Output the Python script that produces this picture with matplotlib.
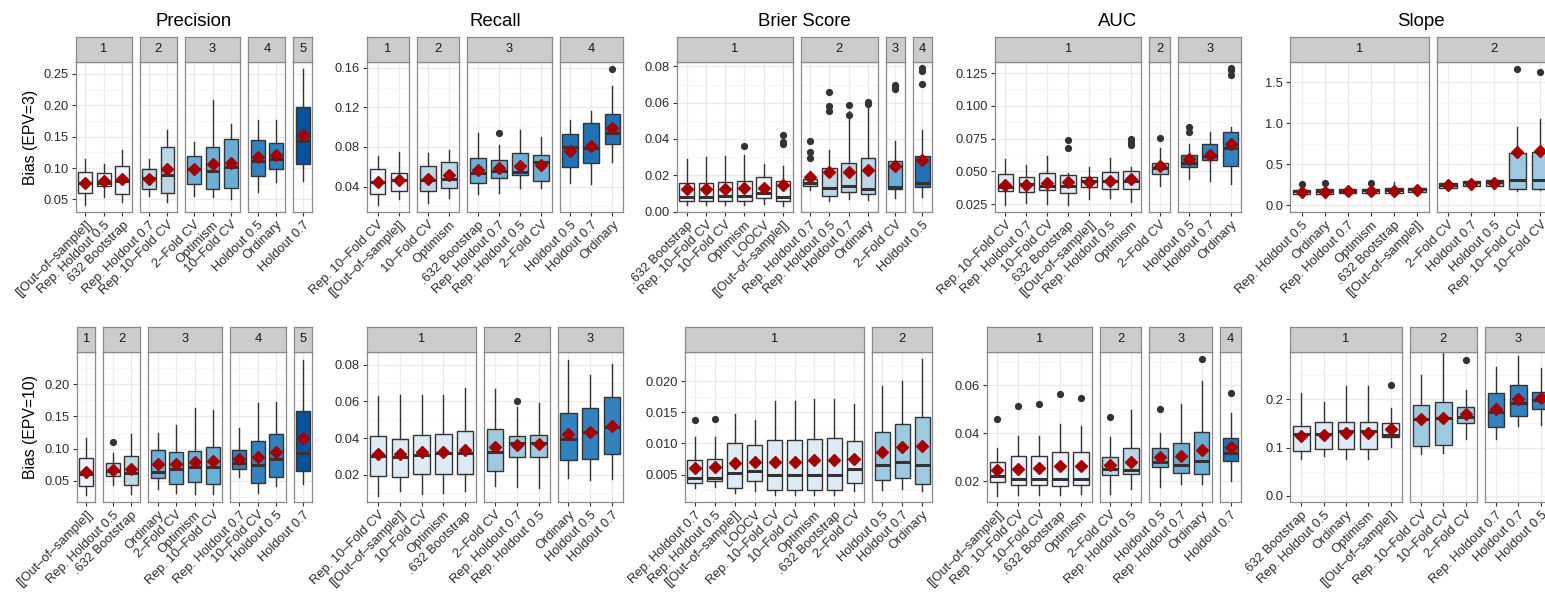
import numpy as np
import matplotlib.pyplot as plt
from matplotlib.ticker import MultipleLocator, FormatStrFormatter

plt.rcParams['font.family'] = ['Liberation Sans', 'DejaVu Sans']

# ---------------- data: box stats are (lower whisker, q1, median, q3, upper whisker) ----------------
# EPV = 3
prec3_labels = ['[[Out–of–sample]]', 'Rep. Holdout 0.5', '.632 Bootstrap', 'Rep. Holdout 0.7', 'Rep. 10–Fold CV',
                '2–Fold CV', 'Optimism', '10–Fold CV', 'Holdout 0.5', 'Ordinary', 'Holdout 0.7']
prec3_groups = [1, 1, 1, 2, 2, 3, 3, 3, 4, 4, 5]
prec3_box = [(0.0415, 0.061, 0.0766, 0.093, 0.114), (0.054, 0.072, 0.0755, 0.092, 0.106),
             (0.046, 0.059, 0.079, 0.104, 0.129), (0.055, 0.0665, 0.0846, 0.099, 0.114),
             (0.046, 0.061, 0.089, 0.133, 0.161), (0.055, 0.074, 0.098, 0.120, 0.142),
             (0.054, 0.0665, 0.0958, 0.133, 0.208), (0.051, 0.0686, 0.101, 0.147, 0.171),
             (0.062, 0.087, 0.111, 0.144, 0.177), (0.0777, 0.098, 0.115, 0.140, 0.177),
             (0.079, 0.106, 0.1426, 0.197, 0.258)]
prec3_mean = [0.0755, 0.079, 0.082, 0.082, 0.098, 0.098, 0.107, 0.108, 0.118, 0.121, 0.153]
prec3_out = [[], [], [], [], [], [], [], [], [], [], []]

rec3_labels = ['Rep. 10–Fold CV', '[[Out–of–sample]]', '10–Fold CV', 'Optimism', '.632 Bootstrap',
               'Rep. Holdout 0.7', 'Rep. Holdout 0.5', '2–Fold CV', 'Holdout 0.5', 'Holdout 0.7', 'Ordinary']
rec3_groups = [1, 1, 2, 2, 3, 3, 3, 3, 4, 4, 4]
rec3_box = [(0.021, 0.0322, 0.0447, 0.0573, 0.0709), (0.0275, 0.0356, 0.0464, 0.0539, 0.0746),
            (0.0234, 0.0356, 0.047, 0.061, 0.0736), (0.0285, 0.0383, 0.0475, 0.065, 0.0773),
            (0.0322, 0.0437, 0.0532, 0.0688, 0.0946), (0.0336, 0.0488, 0.056, 0.0668, 0.0817),
            (0.0386, 0.0515, 0.0549, 0.0736, 0.0973), (0.0383, 0.0458, 0.065, 0.0722, 0.0905),
            (0.044, 0.06, 0.0803, 0.0929, 0.1068), (0.043, 0.0634, 0.0786, 0.1047, 0.1166),
            (0.0644, 0.0834, 0.0939, 0.1136, 0.1414)]
rec3_mean = [0.0447, 0.0468, 0.048, 0.0515, 0.0563, 0.0583, 0.061, 0.0617, 0.0763, 0.0814, 0.0997]
rec3_out = [[], [], [], [], [], [0.0942], [], [], [], [], [0.1593]]

brier3_labels = ['.632 Bootstrap', 'Rep. 10–Fold CV', '10–Fold CV', 'Optimism', 'LOOCV', '[[Out–of–sample]]',
                 'Rep. Holdout 0.7', 'Rep. Holdout 0.5', 'Holdout 0.7', 'Ordinary', '2–Fold CV', 'Holdout 0.5']
brier3_groups = [1, 1, 1, 1, 1, 1, 2, 2, 2, 2, 3, 4]
brier3_box = [(0.0035, 0.0057, 0.0083, 0.016, 0.0289), (0.0035, 0.0057, 0.0083, 0.016, 0.0302),
              (0.0035, 0.0057, 0.0085, 0.0164, 0.0307), (0.0035, 0.0057, 0.0088, 0.0167, 0.0313),
              (0.0042, 0.0074, 0.0105, 0.0188, 0.0265), (0.0033, 0.0059, 0.0083, 0.0171, 0.0252),
              (0.0118, 0.0142, 0.0156, 0.018, 0.0225), (0.0061, 0.0085, 0.0129, 0.0243, 0.0337),
              (0.0068, 0.0107, 0.0142, 0.0267, 0.0552), (0.0064, 0.0098, 0.0123, 0.0296, 0.057),
              (0.0075, 0.0125, 0.0134, 0.0278, 0.039), (0.0083, 0.0138, 0.0156, 0.0309, 0.0451)]
brier3_mean = [0.0123, 0.0123, 0.0127, 0.0132, 0.0132, 0.0147, 0.0188, 0.0217, 0.0217, 0.023, 0.0254, 0.0282]
brier3_out = [[], [], [], [0.0364], [], [0.0423, 0.0386, 0.0375], [0.039, 0.0331, 0.0298],
              [0.066, 0.058, 0.0556], [0.0589, 0.053], [0.0602, 0.0594], [0.070, 0.0686, 0.0675],
              [0.0791, 0.0776, 0.0705]]

auc3_labels = ['Rep. 10–Fold CV', 'Rep. Holdout 0.7', '10–Fold CV', '.632 Bootstrap', '[[Out–of–sample]]',
               'Rep. Holdout 0.5', 'Optimism', '2–Fold CV', 'Holdout 0.5', 'Holdout 0.7', 'Ordinary']
auc3_groups = [1, 1, 1, 1, 1, 1, 1, 2, 3, 3, 3]
auc3_box = [(0.0247, 0.035, 0.038, 0.0477, 0.0592), (0.0263, 0.0342, 0.0403, 0.0459, 0.0551),
            (0.0255, 0.0357, 0.039, 0.0485, 0.0617), (0.0247, 0.0332, 0.039, 0.0472, 0.049),
            (0.0293, 0.0378, 0.0426, 0.0459, 0.0531), (0.0298, 0.0365, 0.0426, 0.0497, 0.060),
            (0.0268, 0.037, 0.0426, 0.0505, 0.0536), (0.039, 0.0479, 0.0528, 0.0566, 0.0676),
            (0.0439, 0.0536, 0.0566, 0.0622, 0.0707), (0.0426, 0.0584, 0.062, 0.0709, 0.0798),
            (0.0408, 0.0543, 0.0676, 0.0801, 0.0842)]
auc3_mean = [0.040, 0.040, 0.0411, 0.0416, 0.0416, 0.0426, 0.0446, 0.0543, 0.0592, 0.0622, 0.0709]
auc3_out = [[], [], [], [0.0737, 0.0678], [], [], [0.0745, 0.0724, 0.0699], [0.0755], [0.0842, 0.0803], [],
            [0.1285, 0.127, 0.1237]]

slope3_labels = ['Rep. Holdout 0.5', 'Ordinary', 'Rep. Holdout 0.7', 'Optimism', '.632 Bootstrap',
                 '[[Out–of–sample]]', '2–Fold CV', 'Holdout 0.7', 'Holdout 0.5', 'Rep. 10–Fold CV', '10–Fold CV']
slope3_groups = [1, 1, 1, 1, 1, 1, 2, 2, 2, 2, 2]
slope3_box = [(0.102, 0.143, 0.171, 0.19, 0.216), (0.094, 0.139, 0.175, 0.196, 0.224),
              (0.122, 0.151, 0.175, 0.20, 0.224), (0.11, 0.151, 0.183, 0.204, 0.224),
              (0.11, 0.147, 0.183, 0.212, 0.281), (0.122, 0.159, 0.20, 0.212, 0.232),
              (0.192, 0.216, 0.253, 0.277, 0.293), (0.204, 0.232, 0.281, 0.297, 0.314),
              (0.204, 0.24, 0.281, 0.306, 0.326), (0.171, 0.196, 0.302, 0.632, 0.958),
              (0.183, 0.196, 0.314, 0.652, 1.051)]
slope3_mean = [0.163, 0.163, 0.179, 0.179, 0.179, 0.192, 0.245, 0.26, 0.269, 0.644, 0.66]
slope3_out = [[0.257], [0.273], [], [0.273], [], [], [], [], [], [1.654], [1.622]]

# EPV = 10
prec10_labels = ['[[Out–of–sample]]', 'Rep. Holdout 0.5', '.632 Bootstrap', 'Ordinary', '2–Fold CV', 'Optimism',
                 'Rep. 10–Fold CV', 'Rep. Holdout 0.7', '10–Fold CV', 'Holdout 0.5', 'Holdout 0.7']
prec10_groups = [1, 2, 2, 3, 3, 3, 3, 4, 4, 4, 5]
prec10_box = [(0.0277, 0.0417, 0.0614, 0.0848, 0.116), (0.0433, 0.0578, 0.0656, 0.078, 0.0936),
              (0.0303, 0.0443, 0.063, 0.0889, 0.1227), (0.037, 0.0547, 0.064, 0.0974, 0.1247),
              (0.0313, 0.0458, 0.0692, 0.0947, 0.1362), (0.0292, 0.0484, 0.0718, 0.0958, 0.1637),
              (0.0292, 0.0458, 0.0708, 0.1019, 0.160), (0.0562, 0.0682, 0.078, 0.0983, 0.1315),
              (0.0313, 0.0474, 0.0744, 0.1118, 0.1704), (0.0417, 0.0562, 0.0837, 0.1221, 0.173),
              (0.0458, 0.0656, 0.0926, 0.1585, 0.2379)]
prec10_mean = [0.064, 0.0676, 0.0687, 0.076, 0.076, 0.079, 0.0806, 0.0832, 0.0863, 0.0941, 0.1159]
prec10_out = [[], [0.1107], [], [], [], [], [], [], [], [], []]

rec10_labels = ['Rep. 10–Fold CV', '[[Out–of–sample]]', '10–Fold CV', 'Optimism', '.632 Bootstrap', '2–Fold CV',
                'Rep. Holdout 0.7', 'Rep. Holdout 0.5', 'Ordinary', 'Holdout 0.5', 'Holdout 0.7']
rec10_groups = [1, 1, 1, 1, 1, 2, 2, 2, 3, 3, 3]
rec10_box = [(0.0085, 0.0195, 0.0304, 0.0411, 0.063), (0.0111, 0.0187, 0.0295, 0.0398, 0.0635),
             (0.0094, 0.0204, 0.0311, 0.0418, 0.0635), (0.0102, 0.0205, 0.0318, 0.0422, 0.0635),
             (0.0111, 0.0204, 0.032, 0.0438, 0.0671), (0.0142, 0.022, 0.0326, 0.0449, 0.0668),
             (0.0134, 0.0295, 0.0371, 0.0413, 0.0571), (0.0131, 0.0296, 0.0371, 0.0417, 0.059),
             (0.0184, 0.028, 0.0398, 0.0539, 0.0826), (0.0171, 0.0289, 0.0435, 0.0566, 0.0741),
             (0.0178, 0.0315, 0.0462, 0.0622, 0.0804)]
rec10_mean = [0.0316, 0.0316, 0.0324, 0.0327, 0.0338, 0.0353, 0.0362, 0.0366, 0.0422, 0.0435, 0.0468]
rec10_out = [[], [], [], [], [], [], [0.0602], [], [], [], []]

brier10_labels = ['Rep. Holdout 0.7', 'Rep. Holdout 0.5', '[[Out–of–sample]]', 'LOOCV', 'Rep. 10–Fold CV',
                  '10–Fold CV', 'Optimism', '.632 Bootstrap', '2–Fold CV', 'Holdout 0.5', 'Holdout 0.7', 'Ordinary']
brier10_groups = [1, 1, 1, 1, 1, 1, 1, 1, 1, 2, 2, 2]
brier10_box = [(0.0028, 0.0036, 0.0044, 0.0074, 0.0111), (0.003, 0.0039, 0.0044, 0.0075, 0.011),
               (0.0021, 0.0028, 0.0052, 0.0101, 0.0148), (0.0024, 0.004, 0.0056, 0.0098, 0.0137),
               (0.0017, 0.0025, 0.005, 0.0105, 0.0169), (0.0017, 0.0025, 0.005, 0.0105, 0.0169),
               (0.0017, 0.0025, 0.005, 0.0107, 0.0172), (0.0017, 0.0025, 0.005, 0.0109, 0.0172),
               (0.0023, 0.0036, 0.0059, 0.0104, 0.0164), (0.0026, 0.0041, 0.0066, 0.0118, 0.0192),
               (0.0027, 0.0044, 0.007, 0.0132, 0.0201), (0.0024, 0.0035, 0.0065, 0.0143, 0.0235)]
brier10_mean = [0.006, 0.0062, 0.0069, 0.007, 0.007, 0.0071, 0.0073, 0.0073, 0.0075, 0.0086, 0.0094, 0.0096]
brier10_out = [[0.0137], [0.0139], [], [], [], [], [], [], [], [], [], []]

auc10_labels = ['[[Out–of–sample]]', 'Rep. 10–Fold CV', '10–Fold CV', '.632 Bootstrap', 'Optimism', '2–Fold CV',
                'Rep. Holdout 0.5', 'Holdout 0.5', 'Rep. Holdout 0.7', 'Ordinary', 'Holdout 0.7']
auc10_groups = [1, 1, 1, 1, 1, 2, 2, 3, 3, 3, 4]
auc10_box = [(0.0138, 0.0197, 0.0222, 0.0281, 0.0337), (0.0141, 0.0183, 0.0208, 0.0305, 0.039),
             (0.0144, 0.0186, 0.0208, 0.0305, 0.039), (0.0144, 0.018, 0.0211, 0.0323, 0.0439),
             (0.0148, 0.0186, 0.0211, 0.032, 0.0431), (0.0148, 0.0225, 0.0253, 0.0302, 0.0383),
             (0.0169, 0.0229, 0.0246, 0.034, 0.0498), (0.0176, 0.026, 0.0281, 0.034, 0.04),
             (0.019, 0.0236, 0.0267, 0.0358, 0.0523), (0.019, 0.0229, 0.0284, 0.0404, 0.0617),
             (0.0201, 0.0285, 0.0319, 0.0382, 0.0484)]
auc10_mean = [0.0246, 0.0253, 0.0256, 0.0264, 0.0264, 0.0267, 0.0281, 0.0302, 0.0305, 0.033, 0.0344]
auc10_out = [[0.0459], [0.0516], [0.0522], [0.0563], [0.0547], [0.047], [], [0.0501], [], [0.0711], [0.0568]]

slope10_labels = ['.632 Bootstrap', 'Rep. Holdout 0.5', 'Ordinary', 'Optimism', '[[Out–of–sample]]',
                  'Rep. 10–Fold CV', '10–Fold CV', '2–Fold CV', 'Rep. Holdout 0.7', 'Holdout 0.7', 'Holdout 0.5']
slope10_groups = [1, 1, 1, 1, 1, 2, 2, 2, 3, 3, 3]
slope10_box = [(0.0761, 0.0934, 0.1273, 0.1453, 0.2124), (0.083, 0.0962, 0.1273, 0.1529, 0.1951),
               (0.0761, 0.0962, 0.1342, 0.1536, 0.2277), (0.0761, 0.0962, 0.1342, 0.1536, 0.2277),
               (0.1017, 0.1225, 0.126, 0.1502, 0.1813), (0.0865, 0.1031, 0.1599, 0.1882, 0.2491),
               (0.0893, 0.1052, 0.1605, 0.1951, 0.30), (0.118, 0.151, 0.163, 0.183, 0.219),
               (0.117, 0.1432, 0.1744, 0.2124, 0.2664), (0.1446, 0.1654, 0.1917, 0.2297, 0.2886),
               (0.1467, 0.1799, 0.1986, 0.2159, 0.2643)]
slope10_mean = [0.1239, 0.126, 0.1308, 0.1308, 0.1377, 0.1592, 0.1619, 0.169, 0.1792, 0.20, 0.2034]
slope10_out = [[], [], [], [], [0.2284], [], [], [0.2816], [], [], []]

titles = ['Precision', 'Recall', 'Brier Score', 'AUC', 'Slope']
row_labels = ['Bias (EPV=3)', 'Bias (EPV=10)']

# ---------------- layout / style ----------------
W, H = 1545, 592
BLUES = {
    3: ['#DEEBF7', '#9ECAE1', '#3182BD'],
    4: ['#EFF3FF', '#BDD7E7', '#6BAED6', '#2171B5'],
    5: ['#EFF3FF', '#BDD7E7', '#6BAED6', '#3182BD', '#08519C'],
}
GAP = 8
COL_RIGHT = [312, 623, 932, 1241, 1552]
ROWS = [dict(left=[76, 367, 677, 995, 1290], strip=37, top=62, bottom=212),
        dict(left=[77, 367, 685, 987, 1290], strip=327, top=352, bottom=502)]
YLIMS = [[(0.030, 0.269), (0.0142, 0.166), (-0.0002, 0.0824), (0.0191, 0.1334), (-0.0815, 1.744)],
         [(0.0173, 0.2498), (0.0053, 0.0868), (0.0006, 0.0247), (0.0113, 0.074), (-0.0125, 0.2976)]]
YSTEP = [[0.05, 0.04, 0.02, 0.025, 0.5], [0.05, 0.02, 0.005, 0.02, 0.1]]
YFMT = [['%.2f', '%.2f', '%.2f', '%.3f', '%.1f'], ['%.2f', '%.2f', '%.3f', '%.2f', '%.1f']]

EDGE = '#333333'
BORDER = '#8A8A8A'
TXT = '#2B2B2B'

fig = plt.figure(figsize=(W / 100, H / 100), dpi=100)


def draw(row, col, labels, groups, boxes, means, outs):
    lay = ROWS[row]
    pal = BLUES[max(3, max(groups))]
    facets = sorted(set(groups))
    counts = [groups.count(g) for g in facets]
    left = lay['left'][col]
    unit = (COL_RIGHT[col] - left - GAP * (len(facets) - 1)) / sum(counts)
    x0 = left
    i = 0
    for k, (g, n) in enumerate(zip(facets, counts)):
        w = n * unit
        ax = fig.add_axes([x0 / W, 1 - lay['bottom'] / H, w / W, (lay['bottom'] - lay['top']) / H])
        sx = fig.add_axes([x0 / W, 1 - lay['top'] / H, w / W, (lay['top'] - lay['strip']) / H])

        stats = []
        for j in range(i, i + n):
            lo, q1, med, q3, hi = boxes[j]
            stats.append(dict(whislo=lo, q1=q1, med=med, q3=q3, whishi=hi,
                              mean=means[j], fliers=outs[j], label=labels[j]))
        pos = np.arange(1, n + 1)
        bp = ax.bxp(stats, positions=pos, widths=0.75, patch_artist=True,
                    showmeans=True, showcaps=False,
                    boxprops=dict(edgecolor=EDGE, linewidth=1.0),
                    medianprops=dict(color=EDGE, linewidth=2.2, solid_capstyle='butt'),
                    whiskerprops=dict(color=EDGE, linewidth=1.0),
                    flierprops=dict(marker='o', markerfacecolor=EDGE, markeredgecolor=EDGE, markersize=4.2),
                    meanprops=dict(marker='D', markerfacecolor='#A30000', markeredgecolor='#A30000',
                                   markersize=6))
        for b in bp['boxes']:
            b.set_facecolor(pal[g - 1])
        for m in bp['means']:
            m.set_zorder(5)

        ax.set_xlim(0.5, n + 0.5)
        ax.set_ylim(*YLIMS[row][col])
        ax.set_xticks(pos)
        ax.set_xticklabels(labels[i:i + n], rotation=45, ha='right', rotation_mode='anchor')
        ax.yaxis.set_major_locator(MultipleLocator(YSTEP[row][col]))
        ax.yaxis.set_minor_locator(MultipleLocator(YSTEP[row][col] / 2))
        ax.yaxis.set_major_formatter(FormatStrFormatter(YFMT[row][col]))
        ax.set_axisbelow(True)
        ax.grid(True, which='major', color='#EBEBEB', linewidth=1.0)
        ax.grid(True, which='minor', axis='y', color='#F5F5F5', linewidth=0.6)
        ax.tick_params(axis='both', which='major', length=3, width=0.8, color=EDGE,
                       labelsize=9.3, labelcolor=TXT, pad=2)
        ax.tick_params(axis='y', which='minor', length=0)
        if k > 0:
            ax.tick_params(axis='y', which='major', length=0, labelleft=False)
        for s in ax.spines.values():
            s.set_color(BORDER)
            s.set_linewidth(0.9)

        sx.set_facecolor('#CCCCCC')
        sx.set_xticks([])
        sx.set_yticks([])
        for s in sx.spines.values():
            s.set_color(BORDER)
            s.set_linewidth(0.9)
        sx.text(0.5, 0.5, str(g), transform=sx.transAxes, ha='center', va='center',
                fontsize=9.3, color='#1A1A1A')

        x0 += w + GAP
        i += n


data3 = [(prec3_labels, prec3_groups, prec3_box, prec3_mean, prec3_out),
         (rec3_labels, rec3_groups, rec3_box, rec3_mean, rec3_out),
         (brier3_labels, brier3_groups, brier3_box, brier3_mean, brier3_out),
         (auc3_labels, auc3_groups, auc3_box, auc3_mean, auc3_out),
         (slope3_labels, slope3_groups, slope3_box, slope3_mean, slope3_out)]
data10 = [(prec10_labels, prec10_groups, prec10_box, prec10_mean, prec10_out),
          (rec10_labels, rec10_groups, rec10_box, rec10_mean, rec10_out),
          (brier10_labels, brier10_groups, brier10_box, brier10_mean, brier10_out),
          (auc10_labels, auc10_groups, auc10_box, auc10_mean, auc10_out),
          (slope10_labels, slope10_groups, slope10_box, slope10_mean, slope10_out)]

for r, rowdata in enumerate([data3, data10]):
    for c, d in enumerate(rowdata):
        draw(r, c, *d)

for c, t in enumerate(titles):
    cx = (ROWS[0]['left'][c] + min(COL_RIGHT[c], 1552)) / 2
    fig.text(cx / W, 1 - 21 / H, t, ha='center', va='center', fontsize=13.4, color='black')

for r, lab in enumerate(row_labels):
    cy = (ROWS[r]['top'] + ROWS[r]['bottom']) / 2
    fig.text(31 / W, 1 - cy / H, lab, rotation=90, ha='center', va='center', fontsize=11.3, color='black')

fig.savefig('out.png', dpi=100)
